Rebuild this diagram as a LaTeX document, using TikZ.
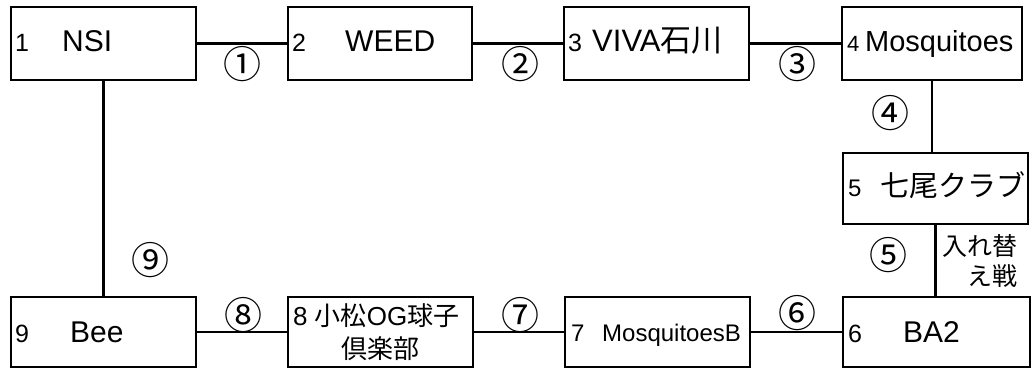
\documentclass[tikz,border=0pt]{standalone}
\usepackage{fontspec}
\setmainfont{Liberation Sans}
\newfontfamily\jp{Noto Sans CJK JP}
\newcommand{\fs}[1]{\fontsize{#1}{#1}\selectfont}
\begin{document}
\begin{tikzpicture}[x=1pt,y=-1pt,
  box/.style={draw=black, line width=2.8pt, inner sep=0pt, minimum height=73pt, minimum width=185pt},
  wire/.style={draw=black, line width=2.8pt},
  txt/.style={inner sep=0pt, anchor=base west},
  circ/.style={inner sep=0pt, font=\jp\fs{38}}]
\useasboundingbox (0,0) rectangle (1035,369);
\fill[white] (0,0) rectangle (1035,369);
% boxes
\node[box] (b1) at (103.5,43.5) {};
\node[box, minimum width=184pt] (b2) at (380,43.5) {};
\node[box] (b3) at (656.5,43.5) {};
\node[box, minimum width=180pt] (b4) at (932,43.5) {};
\node[box, minimum height=71pt] (b5) at (935.5,188.5) {};
\node[box, minimum width=187pt, minimum height=70pt] (b6) at (936.5,332) {};
\node[box, minimum height=70pt] (b7) at (657.5,332) {};
\node[box, minimum height=70pt] (b8) at (380.5,332) {};
\node[box, minimum height=70pt] (b9) at (103.5,332) {};
% connectors
\draw[wire] (b1.east) -- (b2.west);
\draw[wire] (b2.east) -- (b3.west);
\draw[wire] (b3.east) -- (b4.west);
\draw[wire] (b4.south) -- (b4.south |- b5.north);
\draw[wire] (b5.south) -- (b5.south |- b6.north);
\draw[wire] (b6.west) -- (b7.east);
\draw[wire] (b7.west) -- (b8.east);
\draw[wire] (b8.west) -- (b9.east);
\draw[wire] (b1.south) -- (b9.north);
% texts
\node[txt] (t1) at (15,52) {\fs{25}\makebox[47pt][l]{1}\fs{30}NSI};
\node[txt] (t2) at (292,52) {\fs{25}\makebox[53pt][l]{2}\fs{30}WEED};
\node[txt] (t3) at (568,52) {\fs{25}\makebox[24pt][l]{3}\fs{31}VIVA{\jp 石川}};
\node[txt] (t4) at (847,52) {\fs{22}\makebox[18pt][l]{4}\fs{29}Mosquitoes};
\node[txt] (t5) at (848,196) {\fs{24}\makebox[32pt][l]{5}\jp\fs{29}七尾クラブ};
\node[txt] (t6) at (848,342) {\fs{25}\makebox[55pt][l]{6}\fs{30}BA2};
\node[txt] (t7) at (571,341) {\fs{24}\makebox[31pt][l]{7}MosquitoesB};
\node[txt] (t8) at (293,325) {\fs{26}8 {\jp 小松}OG{\jp 球子}};
\node[inner sep=0pt, anchor=base] (t8b) at (380.5,358) {\jp\fs{26}倶楽部};
\node[txt] (t9) at (15,342) {\fs{25}\makebox[55pt][l]{9}\fs{30}Bee};
\node[inner sep=0pt, anchor=base east, align=right, font=\jp\fs{25}] (tx) at (1018,285) {入れ替\\[5pt]え戦};
% circled labels
\node[circ] (c1) at (242,64) {①};
\node[circ] (c2) at (520,64) {②};
\node[circ] (c3) at (797,64) {③};
\node[circ] (c4) at (890,113) {④};
\node[circ] (c5) at (888,255) {⑤};
\node[circ] (c6) at (797,313) {⑥};
\node[circ] (c7) at (520,315) {⑦};
\node[circ] (c8) at (243,315) {⑧};
\node[circ] (c9) at (150,260) {⑨};
\end{tikzpicture}
\end{document}
